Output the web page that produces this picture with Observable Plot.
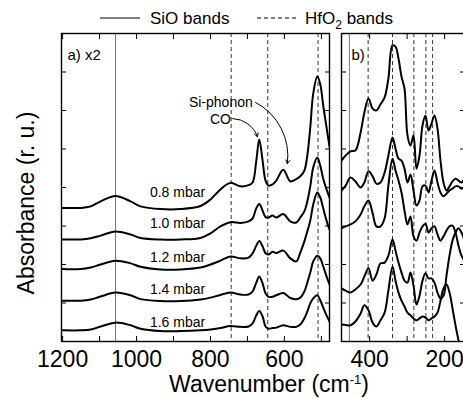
<!DOCTYPE html>
<html><head><meta charset="utf-8">
<script src="https://cdn.jsdelivr.net/npm/d3@7"></script>
<script src="https://cdn.jsdelivr.net/npm/@observablehq/plot@0.6"></script>
<style>
body{margin:0;background:#fff;}
#wrap{position:relative;width:463px;height:398px;overflow:hidden;font-family:"Liberation Sans",Arial,sans-serif;color:#000;background:#fff;}
#wrap > svg{position:absolute;left:0;top:0;}
</style></head><body><div id="wrap"></div>
<script>
// ---- data ----
const pressures = ["0.8 mbar", "1.0 mbar", "1.2 mbar", "1.4 mbar", "1.6 mbar"];
// panel a (x2), wavenumber grid (cm-1)
const waveA = [1200,1151,1124,1097,1057,1016,989,935,881,827,800,773,746,719,697,686,676,668,659,651,643,632,622,603,584,568,557,546,538,530,522,511,503,495,486,478];
const a08 = [3.47,3.47,3.51,3.64,3.78,3.64,3.51,3.44,3.44,3.52,3.69,3.95,4.12,4.03,4.06,4.13,4.70,5.25,4.70,4.18,4.05,4.08,4.18,4.46,4.16,4.22,4.29,4.44,4.83,5.56,6.44,6.88,6.68,6.13,5.56,5.06];
const a10 = [2.65,2.65,2.68,2.75,2.86,2.78,2.69,2.65,2.65,2.69,2.81,2.99,3.10,3.08,3.12,3.20,3.46,3.57,3.40,3.23,3.22,3.27,3.22,3.31,3.12,3.09,3.22,3.38,3.64,4.03,4.52,4.78,4.57,4.23,3.95,3.74];
const a12 = [1.88,1.88,1.92,2.00,2.10,2.03,1.94,1.87,1.87,1.92,2.00,2.10,2.21,2.16,2.18,2.29,2.49,2.61,2.47,2.29,2.26,2.33,2.30,2.36,2.16,2.08,2.31,2.60,2.86,3.14,3.56,3.87,3.74,3.46,3.14,2.91];
const a14 = [1.06,1.06,1.09,1.17,1.27,1.20,1.10,1.05,1.05,1.09,1.14,1.21,1.27,1.22,1.22,1.30,1.53,1.69,1.51,1.25,1.16,1.16,1.20,1.26,1.13,1.10,1.14,1.30,1.53,1.79,2.08,2.23,2.16,1.95,1.69,1.48];
const a16 = [0.29,0.29,0.31,0.39,0.49,0.42,0.33,0.27,0.27,0.29,0.31,0.35,0.40,0.38,0.39,0.47,0.68,0.79,0.65,0.39,0.33,0.35,0.36,0.42,0.38,0.38,0.44,0.60,0.78,0.99,1.12,1.20,1.07,0.88,0.68,0.52];
// panel b
const waveB = [475,464,451,438,424,414,403,392,382,371,360,350,339,331,323,315,307,299,291,283,275,267,259,251,243,235,227,219,211,203,195,187,179,171,163,155,147];
const b08 = [4.70,4.83,4.94,4.96,5.43,5.95,6.31,6.05,6.00,6.16,6.34,6.83,7.69,7.66,7.35,6.88,6.57,5.35,5.09,5.35,4.49,4.83,5.61,5.87,5.48,5.66,5.87,5.53,4.70,4.13,3.92,4.03,4.16,4.23,4.18,4.13,4.23];
const b10 = [3.92,4.05,4.26,4.16,4.00,4.13,4.42,4.29,4.10,4.13,4.39,4.83,5.30,5.01,4.75,4.70,4.49,4.13,4.34,3.92,3.53,3.66,4.03,4.05,3.87,4.18,4.44,4.13,3.87,3.77,3.84,3.92,3.97,4.03,4.03,3.97,4.03];
const b12 = [2.94,2.99,3.04,3.12,3.30,3.51,3.66,3.33,2.99,2.99,3.20,4.05,4.75,4.44,4.18,3.87,3.40,3.04,3.25,2.73,2.62,2.83,2.99,3.06,2.83,2.94,2.99,2.78,2.62,2.73,2.88,2.99,3.01,2.83,2.49,2.23,2.10];
const b14 = [1.38,1.32,1.27,1.35,1.48,1.69,1.90,1.58,1.74,2.03,2.05,2.23,2.65,2.36,2.05,1.79,1.58,1.53,1.79,1.45,0.96,1.19,1.58,1.77,1.64,1.64,1.53,1.27,1.12,1.19,1.71,2.23,2.62,2.83,2.94,2.83,2.62];
const b16 = [0.44,0.43,0.42,0.52,0.73,0.94,0.81,0.49,0.39,0.55,0.75,1.32,1.95,1.58,1.27,1.06,0.91,0.75,0.68,0.60,0.55,0.60,0.65,0.62,0.55,0.60,0.65,0.75,1.06,1.38,1.48,1.27,0.86,0.42,0.03,-0.36,-0.75];
// band positions (cm-1)
const sioA = [1057];
const hfoA = [744, 645, 509];
const sioB = [454];
const hfoB = [404, 339, 282, 250, 232];
// ticks
const xTicksA = [1200,1100,1000,900,800,700,600,500];
const xLabelsA = [1200,1000,800,600];
const xTicksB = [400,300,200];
const xLabelsB = [400,200];
const yTicks = [1,2,3,4,5,6,7];
// curve labels in panel a
const labelWave = [889,889,889,889,889];
const labelAbs = [3.87,3.06,2.18,1.35,0.49];
// annotations
const noteText = ["Si-phonon","CO"];
const noteWave = [772,773];
const noteAbs = [6.21,5.77];
const arrowFromWave = [678,740];
const arrowFromAbs = [6.21,5.79];
const arrowToWave = [592,673];
const arrowToAbs = [4.62,5.32];

// ---- build ----
const rowsA = [a08,a10,a12,a14,a16].flatMap((vals,k)=>vals.map((v,i)=>({p:pressures[k], w:waveA[i], v})));
const rowsB = [b08,b10,b12,b14,b16].flatMap((vals,k)=>vals.map((v,i)=>({p:pressures[k], w:waveB[i], v})));
const labels = pressures.map((p,i)=>({p, w:labelWave[i], v:labelAbs[i]}));
const notes = noteText.map((t,i)=>({t, w:noteWave[i], v:noteAbs[i]}));
const arrows = noteText.map((t,i)=>({x1:arrowFromWave[i], y1:arrowFromAbs[i], x2:arrowToWave[i], y2:arrowToAbs[i]}));

const FONT = '"Liberation Sans", Arial, sans-serif';
const baseStyle = {fontFamily: FONT, fontSize: "23px", background: "transparent", overflow: "visible", maxWidth: "none", color: "#000"};

function frameMarks(xTicks, xLabels) {
  return [
    Plot.axisX({anchor:"bottom", ticks:xTicks, tickSize:-5, fill:"none", label:null, strokeWidth:1}),
    Plot.axisX({anchor:"top", ticks:xTicks, tickSize:-5, fill:"none", label:null, strokeWidth:1}),
    Plot.axisX({anchor:"bottom", ticks:xLabels, tickSize:0, tickPadding:9, label:null, tickFormat:d=>String(d), fontSize:23}),
    Plot.axisY({anchor:"left", ticks:yTicks, tickSize:-5, fill:"none", label:null, strokeWidth:1}),
    Plot.axisY({anchor:"right", ticks:yTicks, tickSize:-5, fill:"none", label:null, strokeWidth:1}),
    Plot.frame({stroke:"#000", strokeWidth:1.4})
  ];
}

const plotA = Plot.plot({
  width: 463, height: 398,
  marginLeft: 61, marginRight: 134, marginTop: 33, marginBottom: 57,
  x: {domain: [1203, 478]},
  y: {domain: [0, 8]},
  style: baseStyle,
  marks: [
    Plot.ruleX(sioA, {stroke:"#777", strokeWidth:1}),
    Plot.ruleX(hfoA, {stroke:"#333", strokeWidth:1, strokeDasharray:"4,3"}),
    Plot.line(rowsA, {x:"w", y:"v", z:"p", stroke:"#000", strokeWidth:2, curve:"catmull-rom", clip:true}),
    Plot.text(labels, {x:"w", y:"v", text:"p", fontSize:14, fill:"#000"}),
    Plot.text(notes, {x:"w", y:"v", text:"t", fontSize:14, fill:"#000"}),
    Plot.arrow(arrows, {x1:"x1", y1:"y1", x2:"x2", y2:"y2", bend:35, headLength:6, strokeWidth:1, stroke:"#000"}),
    Plot.text(["a) x2"], {frameAnchor:"top-left", textAnchor:"start", dx:6, dy:16, fontSize:15, fill:"#000"}),
    ...frameMarks(xTicksA, xLabelsA)
  ]
});

const plotB = Plot.plot({
  width: 470, height: 398,
  marginLeft: 341, marginRight: 6, marginTop: 33, marginBottom: 57,
  x: {domain: [475, 147]},
  y: {domain: [0, 8]},
  style: baseStyle,
  marks: [
    Plot.ruleX(sioB, {stroke:"#777", strokeWidth:1}),
    Plot.ruleX(hfoB, {stroke:"#333", strokeWidth:1, strokeDasharray:"4,3"}),
    Plot.line(rowsB, {x:"w", y:"v", z:"p", stroke:"#000", strokeWidth:2, curve:"catmull-rom", clip:true}),
    Plot.text(["b)"], {frameAnchor:"top-left", textAnchor:"start", dx:10, dy:16, fontSize:15, fill:"#000"}),
    ...frameMarks(xTicksB, xLabelsB)
  ]
});

const wrap = document.getElementById("wrap");
wrap.appendChild(plotA);
wrap.appendChild(plotB);

// overlay: legend and axis titles (real text)
const ns = "http://www.w3.org/2000/svg";
const ov = document.createElementNS(ns, "svg");
ov.setAttribute("width", 463); ov.setAttribute("height", 398);
ov.style.fontFamily = FONT;
ov.innerHTML = `
  <line x1="100" x2="140" y1="18" y2="18" stroke="#000" stroke-width="1"/>
  <text x="150" y="24" font-size="17">SiO bands</text>
  <line x1="257" x2="297" y1="18" y2="18" stroke="#000" stroke-width="1" stroke-dasharray="4,3"/>
  <text x="305" y="24" font-size="17">HfO<tspan font-size="12" dy="5">2</tspan><tspan dy="-5"> bands</tspan></text>
  <text x="269" y="392" font-size="23" text-anchor="middle">Wavenumber (cm<tspan font-size="13" dy="-8">-1</tspan><tspan dy="8">)</tspan></text>
  <text transform="translate(34,203) rotate(-90)" font-size="23" text-anchor="middle">Absorbance (r. u.)</text>
`;
wrap.appendChild(ov);
</script></body></html>
